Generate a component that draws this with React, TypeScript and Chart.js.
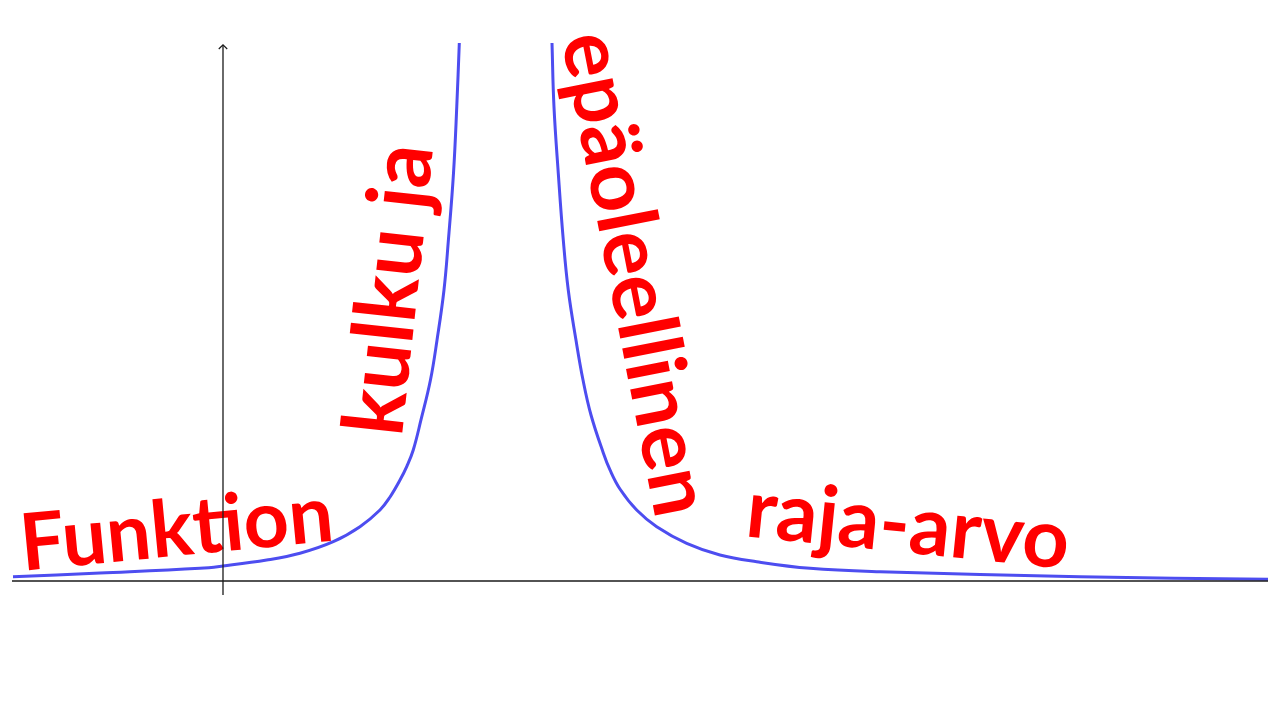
import React, { useEffect, useRef } from "react";
import { Chart, registerables } from "chart.js";

Chart.register(...registerables);

// Left branch of the curve (x in axis units, y in axis units)
const leftX = [-2.234, -1.309, -0.245, 0, 0.465, 0.819, 1.173, 1.457, 1.67, 1.777, 1.883, 1.957, 2.024, 2.106, 2.207, 2.277, 2.351, 2.398, 2.452, 2.487, 2.514];
const leftY = [0.046, 0.085, 0.135, 0.16, 0.223, 0.295, 0.418, 0.578, 0.755, 0.894, 1.074, 1.223, 1.394, 1.713, 2.138, 2.564, 3.096, 3.628, 4.337, 5.046, 5.723];

// Right branch of the curve
const rightX = [3.5, 3.521, 3.567, 3.62, 3.673, 3.755, 3.83, 3.915, 4.046, 4.117, 4.223, 4.401, 4.614, 4.933, 5.287, 5.678, 6.245, 6.989, 9.117, 11.117];
const rightY = [5.723, 5.046, 4.337, 3.628, 3.096, 2.564, 2.138, 1.766, 1.362, 1.181, 0.979, 0.755, 0.578, 0.401, 0.277, 0.205, 0.135, 0.099, 0.046, 0.018];

// Axis extents
const xAxisRange = [-2.245, 11.117];
const yAxisRange = [-0.149, 5.702];

// Text labels
const labelTexts = ["Funktion", "kulku ja", "epäoleellinen", "raja-arvo"];

// Label layout (anchor in axis units, angle in degrees, target length in px)
const labelLayout = [
  { x: -0.468, y: 0.27, angle: -5.5, length: 314 },
  { x: 2.069, y: 3.069, angle: -83.8, length: 292 },
  { x: 4.101, y: 3.213, angle: 78.9, length: 491 },
  { x: 7.26, y: 0.303, angle: 5.8, length: 324 },
];

const X_MIN = -2.3723;
const X_MAX = 11.2447;
const Y_MIN = -1.4787;
const Y_MAX = 6.1809;

const zip = (xs: number[], ys: number[]) => xs.map((x, i) => ({ x, y: ys[i] }));

const textPlugin = {
  id: "curveLabels",
  beforeDatasetsDraw(chart: any) {
    const { ctx } = chart;
    const xs = chart.scales.x;
    const ys = chart.scales.y;
    ctx.save();
    labelTexts.forEach((t, i) => {
      const l = labelLayout[i];
      const px = xs.getPixelForValue(l.x);
      const py = ys.getPixelForValue(l.y);
      ctx.font = "bold 80px Lato";
      const w = ctx.measureText(t).width;
      const size = (80 * l.length) / w;
      ctx.font = `bold ${size.toFixed(2)}px Lato`;
      ctx.translate(px, py);
      ctx.rotate((l.angle * Math.PI) / 180);
      ctx.fillStyle = "#ff0000";
      ctx.textAlign = "center";
      ctx.textBaseline = "alphabetic";
      ctx.fillText(t, 0, 0);
      ctx.setTransform(1, 0, 0, 1, 0, 0);
    });
    ctx.restore();
  },
};

export default function App() {
  const ref = useRef<HTMLCanvasElement | null>(null);

  useEffect(() => {
    if (!ref.current) return;
    const axisStyle = {
      borderColor: "#1a1a1a",
      borderWidth: 1.5,
      pointRadius: 0,
      fill: false,
      tension: 0,
    };
    const curveStyle = {
      borderColor: "#4d4df0",
      borderWidth: 3,
      pointRadius: 0,
      fill: false,
      tension: 0.4,
      capBezierPoints: false,
    };
    const chart = new Chart(ref.current, {
      type: "line",
      data: {
        datasets: [
          { ...axisStyle, data: zip(xAxisRange, [0, 0]) },
          { ...axisStyle, borderWidth: 1.3, data: zip([0, 0], yAxisRange) },
          {
            ...axisStyle,
            borderWidth: 1.2,
            data: zip([-0.045, 0, 0.045], [5.66, 5.705, 5.66]),
          },
          { ...curveStyle, data: zip(leftX, leftY) },
          { ...curveStyle, data: zip(rightX, rightY) },
        ],
      },
      options: {
        animation: false,
        responsive: false,
        devicePixelRatio: 1,
        layout: { padding: 0 },
        plugins: {
          legend: { display: false },
          tooltip: { enabled: false },
        },
        scales: {
          x: { type: "linear", min: X_MIN, max: X_MAX, display: false },
          y: { type: "linear", min: Y_MIN, max: Y_MAX, display: false },
        },
      },
      plugins: [textPlugin],
    } as any);
    return () => chart.destroy();
  }, []);

  return (
    <div
      style={{
        position: "fixed",
        left: 0,
        top: 0,
        width: 1280,
        height: 720,
        background: "#ffffff",
      }}
    >
      <canvas ref={ref} width={1280} height={720} style={{ display: "block" }} />
    </div>
  );
}
